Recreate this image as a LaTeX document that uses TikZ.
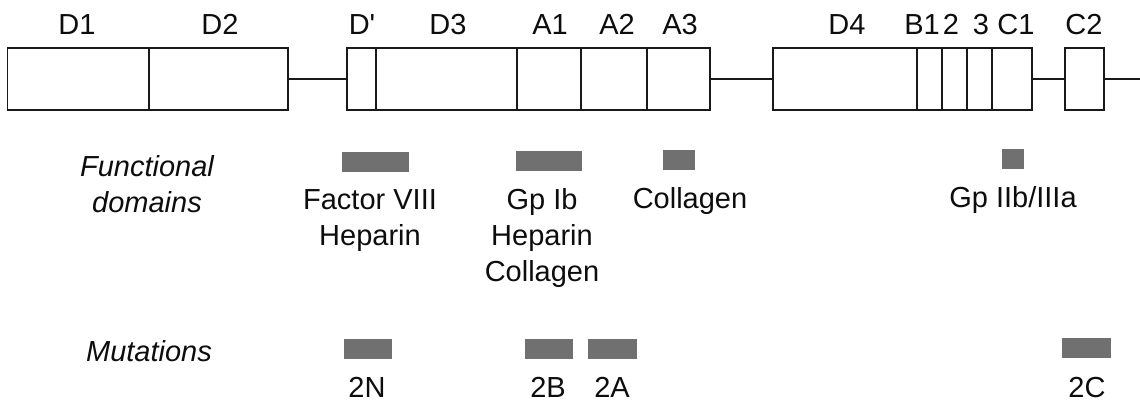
\documentclass[tikz,border=0pt]{standalone}
\usepackage{fontspec}
\setmainfont{Liberation Sans}
\newfontfamily\nolig{Liberation Sans}[Ligatures=TeXOff]
\begin{document}
\begin{tikzpicture}[x=1pt,y=-1pt,
  every node/.style={font=\fontsize{29}{36}\selectfont, text=black!95},
  seg/.style={draw=black!90, line width=1.7pt, inner sep=0pt, outer sep=0pt, minimum height=62pt},
  conn/.style={draw=black!90, line width=1.7pt},
  bar/.style={fill=black!56, draw=none, inner sep=0pt, outer sep=0pt, minimum height=20pt},
  lab/.style={anchor=base, inner sep=0pt},
  mlab/.style={anchor=base, inner sep=0pt, align=center},
  side/.style={anchor=base, inner sep=0pt, align=center, font=\fontsize{29}{36}\selectfont\itshape}]
\useasboundingbox (0,0) rectangle (1140,401);
% domain segments
\node[seg, minimum width=141.5pt] (d1) at (78.25,79) {};
\node[seg, minimum width=139pt] (d2) at (218.5,79) {};
\node[seg, minimum width=29pt] (dp) at (361.5,79) {};
\node[seg, minimum width=141pt] (d3) at (446.5,79) {};
\node[seg, minimum width=64pt] (a1) at (549,79) {};
\node[seg, minimum width=66pt] (a2) at (614,79) {};
\node[seg, minimum width=63pt] (a3) at (678.5,79) {};
\node[seg, minimum width=144pt] (d4) at (845,79) {};
\node[seg, minimum width=25pt] (b1) at (929.5,79) {};
\node[seg, minimum width=25pt] (b2) at (954.5,79) {};
\node[seg, minimum width=25pt] (b3) at (979.5,79) {};
\node[seg, minimum width=40pt] (c1) at (1012,79) {};
\node[seg, minimum width=39pt] (c2) at (1084.5,79) {};
\coordinate (end) at (1141,79);
% connectors
\draw[conn] (d2.east) -- (dp.west);
\draw[conn] (a3.east) -- (d4.west);
\draw[conn] (c1.east) -- (c2.west);
\draw[conn] (c2.east) -- (end);
% domain labels
\node[lab] (ld1) at (77,35) {D1};
\node[lab] (ld2) at (220,35) {D2};
\node[lab] (ldp) at (362,35) {{\nolig D'}};
\node[lab] (ld3) at (448,35) {D3};
\node[lab] (la1) at (550,35) {A1};
\node[lab] (la2) at (617,35) {A2};
\node[lab] (la3) at (680,35) {A3};
\node[lab] (ld4) at (847,35) {D4};
\node[lab] (lb1) at (922,35) {B1};
\node[lab] (lb2) at (951,35) {2};
\node[lab] (lb3) at (981,35) {3};
\node[lab] (lc1) at (1016,35) {C1};
\node[lab] (lc2) at (1084,35) {C2};
% side labels
\node[side] (fd) at (147,212) {Functional\\domains};
\node[side] (mu) at (149,361) {Mutations};
% functional domain bars
\node[bar, minimum width=67pt] (f1) at (375.5,162) {};
\node[bar, minimum width=66pt] (f2) at (549,161) {};
\node[bar, minimum width=32pt] (f3) at (679,160) {};
\node[bar, minimum width=22pt] (f4) at (1013,159) {};
\node[mlab] (tf1) at (370,245) {Factor VIII\\Heparin};
\node[mlab] (tf2) at (542,281) {Gp Ib\\Heparin\\Collagen};
\node[mlab] (tf3) at (690,208) {Collagen};
\node[mlab] (tf4) at (1013,207) {Gp IIb/IIIa};
% mutation bars
\node[bar, minimum width=48pt] (m1) at (368,349) {};
\node[bar, minimum width=48pt] (m2) at (549,349) {};
\node[bar, minimum width=49pt] (m3) at (612.5,349) {};
\node[bar, minimum width=49pt] (m4) at (1086.5,348) {};
\node[lab] (tm1) at (367,397) {2N};
\node[lab] (tm2) at (548,397) {2B};
\node[lab] (tm3) at (612,397) {2A};
\node[lab] (tm4) at (1087,397) {2C};
\end{tikzpicture}
\end{document}
